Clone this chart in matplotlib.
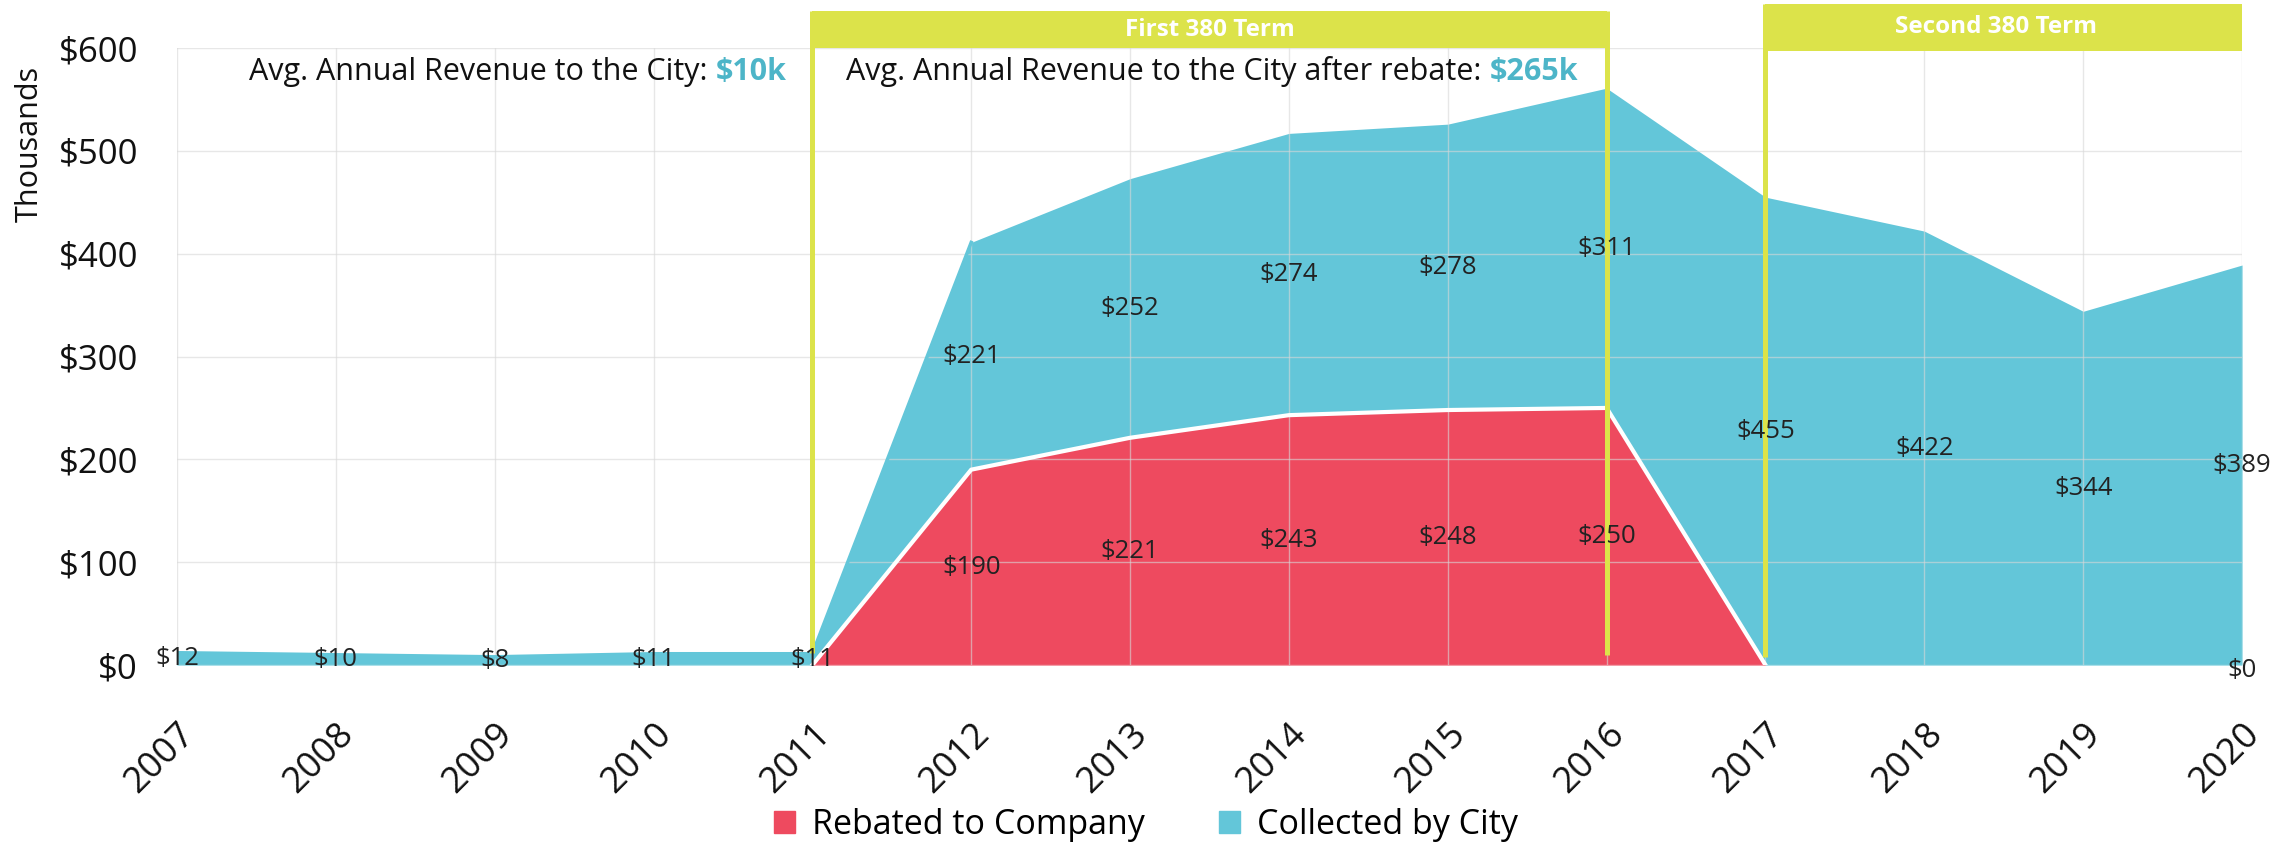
import matplotlib
matplotlib.use('Agg')
from matplotlib import pyplot as plt
from matplotlib.patches import Rectangle, Patch

plt.rcParams['font.family'] = ['Open Sans', 'DejaVu Sans']

RED = '#EE4A5F'
CYAN = '#63C6D9'
YELLOW = '#DCE34A'
NUM_CYAN = '#4DB5C8'

years = list(range(2007, 2021))
rebated = [0, 0, 0, 0, 0, 190, 221, 243, 248, 250, 0, 0, 0, 0]
collected = [12, 10, 8, 11, 11, 221, 252, 274, 278, 311, 455, 422, 344, 389]
rebated_labels = ['', '', '', '', '', '$190', '$221', '$243', '$248', '$250',
                  '', '', '', '$0']
collected_labels = ['$' + str(v) for v in collected]
y_ticks = [0, 100, 200, 300, 400, 500, 600]

fig = plt.figure(figsize=(22.92, 8.46), dpi=100)
ax = fig.add_axes([0.0772, 0.2139, 0.901, 0.7293])

total = [r + c for r, c in zip(rebated, collected)]
ax.fill_between(years, 0, rebated, color=RED, lw=0, zorder=2)
ax.fill_between(years, rebated, total, color=CYAN, lw=0, zorder=2)
ax.plot(years[:6], total[:6], color=CYAN, lw=2.5, zorder=3)
# white edge on top of the rebated part
ax.plot(years[4:11], rebated[4:11], color='white', lw=3, zorder=3)

# data labels in the middle of each band
for x, r, c, rl, cl in zip(years, rebated, collected, rebated_labels,
                           collected_labels):
    if rl:
        ax.text(x, r / 2 - (5 if r == 0 else 0), rl, ha='center',
                va='center', fontsize=18.5, color='#222222', zorder=6,
                clip_on=False)
    ax.text(x, r + c / 2, cl, ha='center', va='center', fontsize=18.5,
            color='#222222', zorder=6, clip_on=False)

ax.set_xlim(2007, 2020)
ax.set_ylim(0, 600)
ax.set_xticks(years)
ax.set_xticklabels([str(y) for y in years], rotation=45, ha='right',
                   rotation_mode='anchor', fontsize=26)
ax.set_yticks(y_ticks)
ax.set_yticklabels(['$' + str(v) for v in y_ticks], fontsize=25)
ax.tick_params(axis='both', length=0, colors='#111111')
ax.tick_params(axis='x', pad=37)
ax.tick_params(axis='y', pad=28)
for s in ax.spines.values():
    s.set_visible(False)
ax.grid(True, color='#d8d8d8', lw=1, alpha=0.6, zorder=4)
ax.set_axisbelow(False)

# first 380 term box
ax.add_patch(Rectangle((2011, 600), 5, 36, color=YELLOW, lw=0,
                       clip_on=False, zorder=5))
ax.plot([2011, 2011], [12, 636], color=YELLOW, lw=3.6, clip_on=False,
        zorder=5, solid_capstyle='butt')
ax.plot([2016, 2016], [10, 636], color=YELLOW, lw=3.6, clip_on=False,
        zorder=5, solid_capstyle='butt')
ax.text(2013.5, 618, 'First 380 Term', ha='center', va='center',
        fontsize=17.5, fontweight='bold', color='white', zorder=6)

# second 380 term box
ax.add_patch(Rectangle((2017, 597), 3, 46, color=YELLOW, lw=0,
                       clip_on=False, zorder=5))
ax.plot([2017, 2017], [8, 643], color=YELLOW, lw=3.6, clip_on=False,
        zorder=5, solid_capstyle='butt')
ax.text(2018.45, 620, 'Second 380 Term', ha='center', va='center',
        fontsize=17.5, fontweight='bold', color='white', zorder=6)

# average revenue notes
t1 = ax.text(2010.84, 577, '$10k', ha='right', va='center', fontsize=22,
             fontweight='bold', color=NUM_CYAN, zorder=6)
ax.annotate('Avg. Annual Revenue to the City:', xy=(0, 0.5), xycoords=t1,
            xytext=(-6, 0), textcoords='offset points', ha='right',
            va='center', fontsize=22, color='#111111', zorder=6)
t2 = ax.text(2015.82, 577, '$265k', ha='right', va='center', fontsize=22,
             fontweight='bold', color=NUM_CYAN, zorder=6)
ax.annotate('Avg. Annual Revenue to the City after rebate:', xy=(0, 0.5),
            xycoords=t2, xytext=(-6, 0), textcoords='offset points',
            ha='right', va='center', fontsize=22, color='#111111', zorder=6)

fig.text(0.013, 1 - 144 / 846, 'Thousands', rotation=90, ha='center',
         va='center', fontsize=22, color='#111111')

handles = [Patch(color=RED, label='Rebated to Company'),
           Patch(color=CYAN, label='Collected by City')]
fig.legend(handles=handles, loc='center', bbox_to_anchor=(0.5, 0.025),
           ncol=2, frameon=False, fontsize=24.5, handlelength=0.6,
           handleheight=0.6, handletextpad=0.5, columnspacing=2.2)

plt.savefig('out.png', dpi=100)
plt.close()
